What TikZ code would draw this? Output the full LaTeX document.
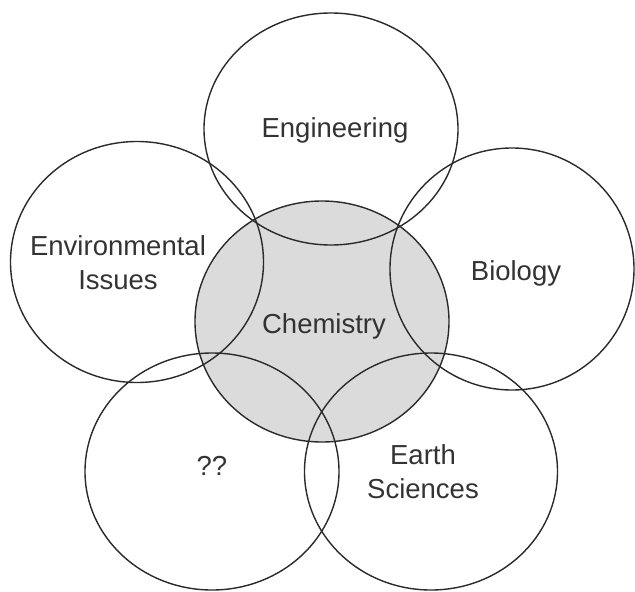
\documentclass[tikz,border=0pt]{standalone}
\usepackage{fontspec}
\setmainfont{Liberation Sans}
\usetikzlibrary{shapes.geometric}
\definecolor{linec}{HTML}{2A2A2A}
\definecolor{fillc}{HTML}{DBDBDB}
\definecolor{textc}{HTML}{333333}
\tikzset{
  ring/.style={shape=ellipse, draw=linec, line width=1.4pt, inner sep=0pt},
  lbl/.style={anchor=base, text=textc, font=\fontsize{27.5}{34}\selectfont, align=center, inner sep=0pt}
}
\begin{document}
\begin{tikzpicture}[x=1pt,y=-1pt]
\useasboundingbox (0,0) rectangle (635,592);
% filled chemistry disc first
\node[ring, fill=fillc, draw=none, minimum width=254pt, minimum height=241pt] (chemfill) at (322,321.5) {};
% outlines
\node[ring, minimum width=254pt, minimum height=232pt] (eng) at (331,129) {};
\node[ring, minimum width=253pt, minimum height=241pt] (env) at (137,262) {};
\node[ring, minimum width=244pt, minimum height=242pt] (bio) at (512,269) {};
\node[ring, minimum width=254pt, minimum height=237pt] (qq) at (212,471.5) {};
\node[ring, minimum width=253pt, minimum height=237pt] (earth) at (431,471.5) {};
\node[ring, minimum width=254pt, minimum height=241pt] (chem) at (322,321.5) {};
% labels
\node[lbl] (tEng) at (335,137.5) {Engineering};
\node[lbl] (tEnv) at (118,289) {Environmental\\Issues};
\node[lbl] (tBio) at (516,280) {Biology};
\node[lbl] (tChem) at (324,333) {Chemistry};
\node[lbl] (tQQ) at (212,475) {??};
\node[lbl] (tEarth) at (423,498) {Earth\\Sciences};
\end{tikzpicture}
\end{document}
